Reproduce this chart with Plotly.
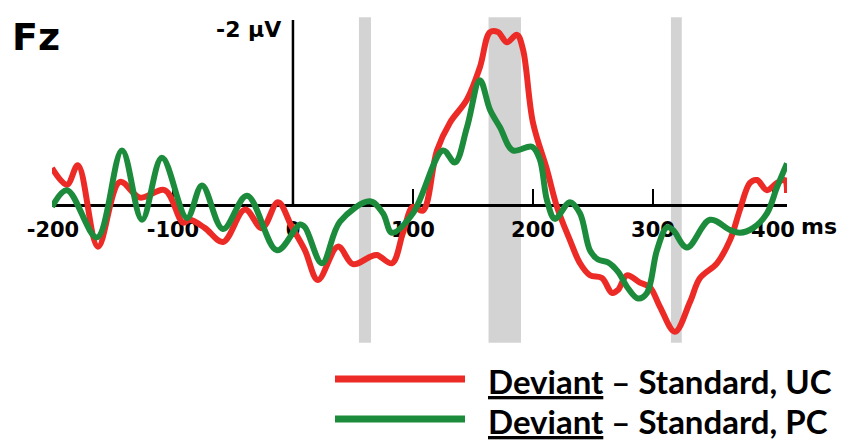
import plotly.graph_objects as go

# Time (ms) and amplitude (µV, negative plotted upward)
uc_ms = [-200.8, -188.3, -179.2, -162.5, -144.2, -127.5, -106.7, -91.7, -85.8, -73.3, -58.3, -40, -25.8,
         -12.5, -0.8, 10, 20.8, 37.5, 50, 64.2, 70, 82.5, 91.7, 100, 108.3, 120, 130.8, 145, 155.8, 164.2,
         170.8, 178.3, 186.7, 191.7, 200, 211.7, 220, 230.8, 239.2, 247.5, 257.5, 265.8, 270.8, 278.3,
         289.2, 297.5, 305.8, 318.3, 330.8, 339.2, 353.3, 364.2, 372.5, 380.8, 386.7, 395, 403.3, 410, 411.7]
uc_uv = [-0.40, -0.22, -0.43, 0.45, -0.25, -0.08, -0.16, 0.19, 0.16, 0.25, 0.40, 0.05, 0.25,
         -0.03, 0.24, 0.49, 0.81, 0.45, 0.64, 0.56, 0.54, 0.63, 0.30, 0.02, 0.06, -0.59, -0.89, -1.14, -1.49, -1.87,
         -1.87, -1.76, -1.84, -1.68, -0.89, -0.38, 0.02, 0.38, 0.63, 0.76, 0.79, 0.95, 0.92, 0.76,
         0.84, 0.89, 1.10, 1.37, 1.05, 0.79, 0.63, 0.38, 0.05, -0.24, -0.27, -0.16, -0.24, -0.27, -0.13]

pc_ms = [-200.8, -188.3, -163.3, -142.5, -125.8, -109.2, -88.3, -75.8, -58.3, -38.3, -13.3, 5.8, 10, 24.2,
         39.2, 64.2, 75, 82.5, 100, 125, 135, 145, 155.8, 164.2, 172.5, 183.3, 199.2, 205.8, 211.7, 218.3,
         230.8, 239.2, 247.5, 254.2, 262.5, 270.8, 279.2, 287.5, 295, 303.3, 311.7, 316.7, 328.3, 347.5,
         364.2, 372.5, 383.3, 395, 403.3, 411.7]
pc_uv = [0.02, -0.16, 0.35, -0.59, 0.16, -0.51, 0.14, -0.21, 0.26, -0.10, 0.49, 0.21, 0.24, 0.63,
         0.18, -0.04, 0.09, 0.30, 0.09, -0.59, -0.46, -0.84, -1.35, -1.03, -0.84, -0.59, -0.63, -0.49, -0.05, 0.15,
         -0.03, 0.09, 0.49, 0.59, 0.62, 0.72, 0.90, 1.01, 0.95, 0.49, 0.24, 0.27, 0.46, 0.16,
         0.27, 0.30, 0.25, 0.09, -0.19, -0.45]

bands = [(55, 65), (163, 190), (315, 324)]
tick_vals = [-200, -100, 0, 100, 200, 300, 400]
tick_text = ["-200", "-100", "0", "100", "200", "300", "400"]
series_names = ["Deviant – Standard, UC", "Deviant – Standard, PC"]

RED = "#EC2B27"
GREEN = "#1C8B3C"
W, H = 848, 440
X0PX, X1PX = 52, 787
x_lo, x_hi = -200.8, 411.7
px_per_uv = 92.5
zero_px = 205
y_top = -zero_px / px_per_uv
y_bot = (H - zero_px) / px_per_uv

fig = go.Figure()
fig.add_trace(go.Scatter(x=uc_ms, y=uc_uv, mode="lines", line=dict(color=RED, width=6, shape="spline", smoothing=1.0),
                         showlegend=False, cliponaxis=False, hoverinfo="skip"))
fig.add_trace(go.Scatter(x=pc_ms, y=pc_uv, mode="lines", line=dict(color=GREEN, width=6, shape="spline", smoothing=1.0),
                         showlegend=False, cliponaxis=False, hoverinfo="skip"))

for a, b in bands:
    fig.add_shape(type="rect", xref="x", yref="y", x0=a, x1=b, y0=-2.03, y1=1.49,
                  fillcolor="#D3D3D3", line=dict(width=0), layer="below")

# vertical axis
fig.add_shape(type="line", xref="x", yref="y", x0=0, x1=0, y0=0, y1=-2.0,
              line=dict(color="black", width=2.5), layer="below")

font_b = "DejaVu Sans"
fig.add_annotation(x=-8, y=-1.9, xref="x", yref="y", text="-2 µV", showarrow=False,
                   xanchor="right", yanchor="middle", font=dict(family=font_b, size=22, color="black", weight="bold"))
fig.add_annotation(x=10 / W, y=1 - 37 / H, xref="paper", yref="paper", text="Fz", showarrow=False,
                   xanchor="left", yanchor="middle", font=dict(family=font_b, size=38, color="black", weight="bold"))
fig.add_annotation(x=799 / W, y=1 - 226 / H, xref="paper", yref="paper", text="ms", showarrow=False,
                   xanchor="left", yanchor="middle", font=dict(family=font_b, size=22, color="black", weight="bold"))

# legend drawn manually
leg_font = "Lato"
for i, (name, col) in enumerate(zip(series_names, [RED, GREEN])):
    ypx = 379 + 40 * i
    fig.add_shape(type="line", xref="paper", yref="paper", x0=335 / W, x1=465 / W,
                  y0=1 - ypx / H, y1=1 - ypx / H, line=dict(color=col, width=7))
    fig.add_annotation(x=486 / W, y=1 - (ypx + 2) / H, xref="paper", yref="paper",
                       text="<u>Deviant</u> – Standard, " + name.split(", ")[1],
                       showarrow=False, xanchor="left", yanchor="middle",
                       font=dict(family=leg_font, size=33, color="black", weight="bold"))

fig.update_layout(
    template="none",
    width=W, height=H,
    margin=dict(l=0, r=0, t=0, b=0, autoexpand=False),
    paper_bgcolor="white", plot_bgcolor="white",
    xaxis=dict(domain=[X0PX / W, X1PX / W], range=[x_lo, x_hi], anchor="free", position=1 - zero_px / H,
               automargin=False,
               showline=True, linecolor="black", linewidth=2.5, ticks="inside", ticklen=15, tickwidth=2,
               tickcolor="black", tickvals=tick_vals, ticktext=tick_text, showgrid=False, zeroline=False,
               layer="below traces", ticklabelstandoff=5,
               tickfont=dict(family=font_b, size=21, color="black", weight="bold"), fixedrange=True),
    yaxis=dict(domain=[0, 1], range=[y_bot, y_top], visible=False, automargin=False, fixedrange=True),
)

fig.write_html("out.html", config={"displayModeBar": False},
               post_script="document.body.style.margin='0';document.body.style.overflow='hidden';")
